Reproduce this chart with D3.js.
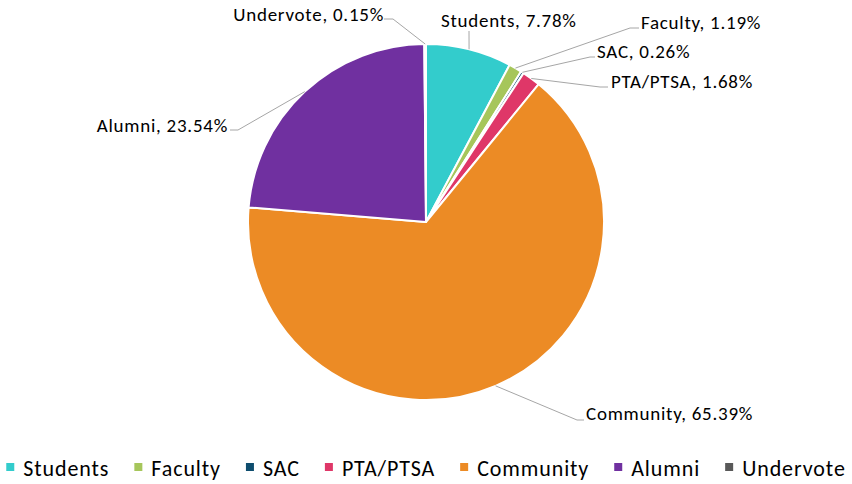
<!DOCTYPE html>
<html>
<head>
<meta charset="utf-8">
<script src="https://cdn.jsdelivr.net/npm/d3@7"></script>
<style>
  html, body { margin: 0; padding: 0; background: #fff; }
  svg { display: block; }
  text { font-family: Carlito, Lato, "Liberation Sans", sans-serif; fill: #000; }
</style>
</head>
<body>
<svg id="chart" width="852" height="484"></svg>
<script>
// ---- data ----
const categories = ["Students", "Faculty", "SAC", "PTA/PTSA", "Community", "Alumni", "Undervote"];
const shares = [7.78, 1.19, 0.26, 1.68, 65.39, 23.54, 0.15];
const labelTexts = ["Students, 7.78%", "Faculty, 1.19%", "SAC, 0.26%", "PTA/PTSA, 1.68%", "Community, 65.39%", "Alumni, 23.54%", "Undervote, 0.15%"];
const colors = ["#33CCCC", "#A6C65B", "#0E4D6E", "#DF3768", "#EC8B25", "#7030A0", "#595959"];

// ---- layout ----
const W = 852, H = 484;
const cx = 426, cy = 222, R = 178;
const svg = d3.select("#chart");

const color = d3.scaleOrdinal().domain(categories).range(colors);
const pie = d3.pie().sort(null).value(d => d.v).startAngle(0).endAngle(2 * Math.PI);
const data = categories.map((c, i) => ({ c, v: shares[i], label: labelTexts[i] }));
const arcs = pie(data);
const arc = d3.arc().innerRadius(0).outerRadius(R);

const g = svg.append("g").attr("transform", `translate(${cx},${cy})`);
g.selectAll("path.slice").data(arcs).join("path")
  .attr("class", "slice")
  .attr("d", arc)
  .attr("fill", d => color(d.data.c))
  .attr("stroke", "#fff")
  .attr("stroke-width", 2)
  .attr("stroke-linejoin", "round");

// label placement (absolute page coords): text anchor point, anchor side, elbow points
const labelLayout = {
  "Students":  { x: 441, y: 27, anchor: "start", pts: [[469, 31]] },
  "Faculty":   { x: 641, y: 29, anchor: "start", pts: [[639, 28], [630, 28]] },
  "SAC":       { x: 597, y: 58, anchor: "start", pts: [[595, 57], [590, 57]] },
  "PTA/PTSA":  { x: 611, y: 88, anchor: "start", pts: [[608, 87], [600, 87]] },
  "Community": { x: 586, y: 420, anchor: "start", pts: [[584, 420], [577, 420]] },
  "Alumni":    { x: 228, y: 132, anchor: "end", pts: [[230, 130], [238, 130]] },
  "Undervote": { x: 384, y: 21, anchor: "end", pts: [[384, 19], [393, 19]] }
};

const lineGen = d3.line();
arcs.forEach(a => {
  const L = labelLayout[a.data.c];
  const mid = (a.startAngle + a.endAngle) / 2;
  const ex = cx + R * Math.sin(mid), ey = cy - R * Math.cos(mid);
  const pts = L.pts.concat([[ex, ey]]);
  svg.append("path")
    .attr("d", lineGen(pts))
    .attr("fill", "none")
    .attr("stroke", "#A6A6A6")
    .attr("stroke-width", 1);
  svg.append("text")
    .attr("x", L.x).attr("y", L.y)
    .attr("text-anchor", L.anchor)
    .attr("font-size", 19)
    .attr("letter-spacing", 0.75)
    .text(a.data.label);
});

// ---- legend ----
const legend = svg.append("g").attr("class", "legend");
const items = legend.selectAll("g").data(categories).join("g");
items.append("rect").attr("width", 8).attr("height", 8).attr("y", 463).attr("fill", d => color(d));
items.append("text").attr("y", 476).attr("font-size", 22).attr("letter-spacing", 0.9).text(d => d);
let x = 0;
items.each(function (d) {
  const w = d3.select(this).select("text").node().getComputedTextLength();
  d3.select(this).select("text").attr("x", x + 17);
  d3.select(this).select("rect").attr("x", x);
  x += 17 + w + 25;
});
const total = x - 25;
const offset = (W - total) / 2;
legend.attr("transform", `translate(${offset},0)`);
</script>
</body>
</html>
